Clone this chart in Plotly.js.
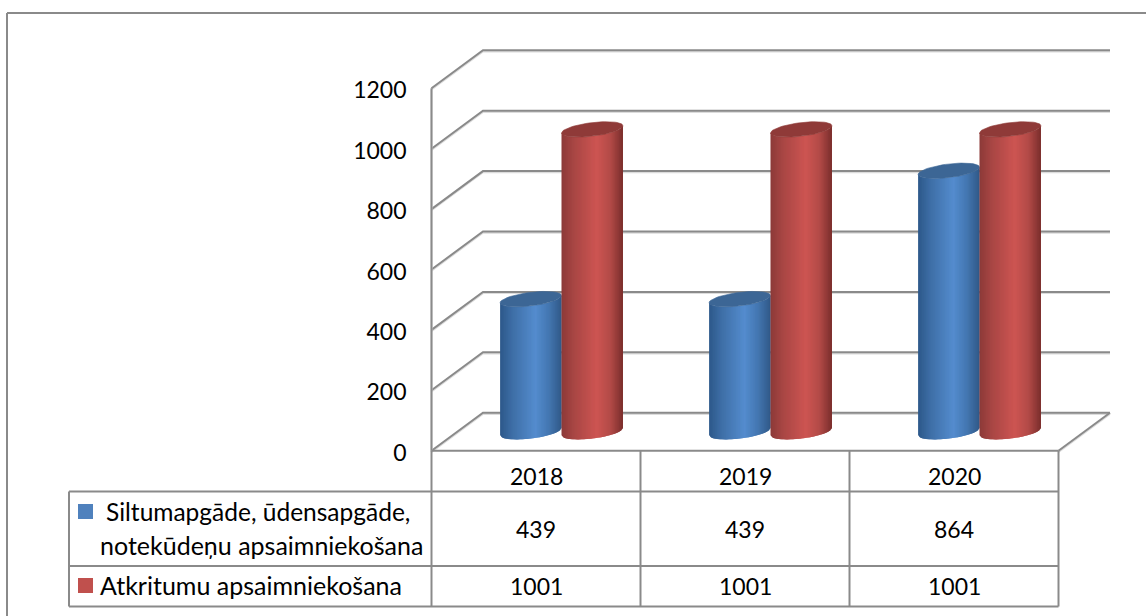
<!DOCTYPE html>
<html><head><meta charset="utf-8">
<script src="https://cdn.plot.ly/plotly-3.0.1.min.js"></script>
<style>html,body{margin:0;padding:0;background:#fff}#c{width:1146px;height:616px}</style>
</head><body><div id="c"></div>
<script>
const categories = ['2018','2019','2020'];
const seriesNames = [['Siltumapgāde, ūdensapgāde,','notekūdeņu apsaimniekošana'],['Atkritumu apsaimniekošana']];
const heat = [439,439,864];
const waste = [1001,1001,1001];
const tickVals = [0,200,400,600,800,1000,1200];

const W=1146,H=616, X0=431.5, Y0=450.7, SX=209, SY=0.302;
const GRID='#8a8a8a', HALO='#dcdcdc', FONT='Lato, Carlito, sans-serif', TXT='#000000';
const dxB=51.5/SX, dyB=38/SY, dxM=25.5/SX, dyM=19/SY;
const halfW=30.7/SX, bY=6.8/SY, kY=3.6/SY;
const gradients=[
 {stops:[[-1,[44,88,138]],[-0.6,[62,110,166]],[0.15,[84,140,206]],[0.6,[67,118,176]],[1,[48,88,136]]],lid:'#3c6695',key:'#4f81bd'},
 {stops:[[-1,[140,58,56]],[-0.6,[168,70,68]],[0.15,[205,85,82]],[0.6,[178,74,71]],[1,[122,46,44]]],lid:'#8f3a38',key:'#c0504d'}
];
function col(st,u){for(let i=1;i<st.length;i++){if(u<=st[i][0]){const t=(u-st[i-1][0])/(st[i][0]-st[i-1][0]);
 const c=st[i-1][1].map((v,j)=>Math.round(v+(st[i][1][j]-v)*t));return `rgb(${c})`;}}return `rgb(${st[st.length-1][1]})`;}

const traces=[];
function line(x,y,w){
 traces.push({type:'scatter',mode:'lines',x,y:y.map(v=>v-1.2/SY),line:{color:HALO,width:2},hoverinfo:'skip',showlegend:false});
 traces.push({type:'scatter',mode:'lines',x,y,line:{color:GRID,width:w||2},hoverinfo:'skip',showlegend:false});
}
tickVals.forEach(v=>line([0,dxB,3+dxB],[v,v+dyB,v+dyB]));
line([0,0],[0,tickVals[tickVals.length-1]]);
line([3,3+dxB],[0,dyB]);

function cyl(cx,val,g){
 const N=48;
 const f=u=>bY*Math.sqrt(Math.max(0,1-u*u));
 const y=(base,u)=>base+kY*u-f(u);
 for(let i=0;i<N;i++){
  const u0=-1+2*i/N,um=u0+1/N,u1=Math.min(1,u0+4/N);
  const xa=cx+halfW*u0,xb=cx+halfW*u1;
  const c=col(g.stops,um);
  traces.push({type:'scatter',mode:'none',fill:'toself',fillcolor:c,
   x:[xa,xb,xb,xa,xa],y:[dyM+y(val,u0),dyM+y(val,u1),dyM+y(0,u1),dyM+y(0,u0),dyM+y(val,u0)],
   hoverinfo:'skip',showlegend:false});
 }
 const lx=[],ly=[];
 for(let i=0;i<=60;i++){const t=2*Math.PI*i/60;lx.push(cx+halfW*Math.cos(t));ly.push(dyM+val+kY*Math.cos(t)+bY*Math.sin(t));}
 traces.push({type:'scatter',mode:'lines',fill:'toself',fillcolor:g.lid,line:{color:g.lid,width:0.6},x:lx,y:ly,hoverinfo:'skip',showlegend:false});
}
categories.forEach((c,i)=>{
 const mid=i+0.5+dxM;
 cyl(mid-halfW,heat[i],gradients[0]);
 cyl(mid+halfW,waste[i],gradients[1]);
});

const px=x=>x/W, py=y=>1-y/H;
const shapes=[], ann=[];
function sh(x0,y0,x1,y1,c,w){shapes.push({type:'line',xref:'paper',yref:'paper',x0:px(x0),x1:px(x1),y0:py(y0),y1:py(y1),line:{color:c||GRID,width:w||2}});}
function txt(x,y,t,a,s){ann.push({xref:'paper',yref:'paper',x:px(x),y:py(y),text:t,showarrow:false,xanchor:a||'center',yanchor:'middle',font:{family:FONT,size:s||23,color:TXT},borderpad:0,borderwidth:0});}
sh(7,13,W,13);sh(7,13,7,H);
const T={top:Y0,h:491.5,r1:566,b:606.5,l:69};
const colX=categories.map((c,i)=>X0+SX*i).concat([X0+SX*categories.length]);
sh(X0,T.top,colX[3],T.top);
sh(T.l,T.h,colX[3],T.h);
sh(T.l,T.r1,colX[3],T.r1);
sh(T.l,T.b,colX[3],T.b);
sh(T.l,T.h,T.l,T.b);
colX.forEach(x=>sh(x,T.top,x,T.b));
categories.forEach((c,i)=>{
 const x=X0+SX*(i+0.5);
 txt(x,476,c);
 txt(x,529,String(heat[i]));
 txt(x,586,String(waste[i]));
});
txt(106,511,seriesNames[0][0],'left',24.5);
txt(100,545,seriesNames[0][1],'left',25);
txt(100,585,seriesNames[1][0],'left',25);
[[504,gradients[0].key],[578,gradients[1].key]].forEach(([y,c])=>{
 shapes.push({type:'rect',xref:'paper',yref:'paper',x0:px(78),x1:px(93),y0:py(y),y1:py(y+15),fillcolor:c,line:{width:0}});
});

Plotly.newPlot('c',traces,{
 width:W,height:H,margin:{l:0,r:0,t:0,b:0},paper_bgcolor:'#fff',plot_bgcolor:'#fff',showlegend:false,
 xaxis:{range:[-X0/SX,(W-X0)/SX],visible:false,fixedrange:true},
 yaxis:{range:[-(H-Y0)/SY,Y0/SY],anchor:'free',position:X0/W,tickvals:tickVals,ticktext:tickVals.map(String),
  showgrid:false,zeroline:false,showline:false,ticks:'',ticklabelstandoff:25,ticklabelshift:2,fixedrange:true,
  tickfont:{family:FONT,size:23,color:TXT}},
 shapes,annotations:ann
},{displayModeBar:false,staticPlot:true});
</script></body></html>
